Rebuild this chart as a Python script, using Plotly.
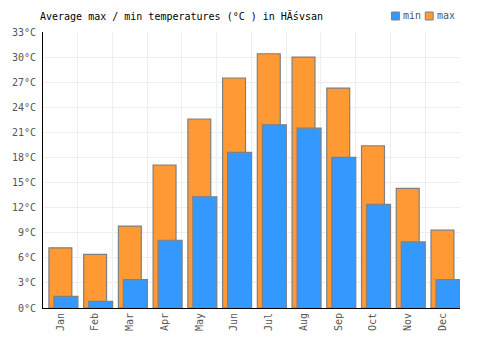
import plotly.graph_objects as go

months = ["Jan", "Feb", "Mar", "Apr", "May", "Jun", "Jul", "Aug", "Sep", "Oct", "Nov", "Dec"]
t_max = [7.2, 6.4, 9.8, 17.1, 22.6, 27.5, 30.4, 30.0, 26.3, 19.4, 14.3, 9.3]
t_min = [1.4, 0.8, 3.4, 8.1, 13.3, 18.6, 21.9, 21.5, 18.0, 12.4, 7.9, 3.4]
y_ticks = list(range(0, 34, 3))
y_labels = [f"{v}°C" for v in y_ticks]

FONT = "DejaVu Sans Mono"
C_MIN, C_MAX, EDGE = "#3399FF", "#FF9933", "#808080"

fig = go.Figure()
fig.add_trace(go.Bar(
    x=months, y=t_max, name="max", showlegend=False,
    marker=dict(color=C_MAX, line=dict(color=EDGE, width=1.2)),
    offset=-0.33, width=0.66,
))
fig.add_trace(go.Bar(
    x=months, y=t_min, name="min", showlegend=False,
    marker=dict(color=C_MIN, line=dict(color=EDGE, width=1.2)),
    offset=-0.185, width=0.69,
))

legend_items = [("min", C_MIN, 391), ("max", C_MAX, 425)]
for label, col, px in legend_items:
    fig.add_shape(type="rect", xref="paper", yref="paper",
                  x0=(px - 40) / 420, x1=(px + 8 - 40) / 420,
                  y0=1 + (32 - 20) / 276, y1=1 + (32 - 12) / 276,
                  fillcolor=col, line=dict(color=EDGE, width=1))
    fig.add_annotation(text=label, xref="paper", yref="paper",
                       x=(px + 10 - 40) / 420, y=1 + (32 - 16) / 276,
                       xanchor="left", yanchor="middle", showarrow=False,
                       font=dict(family=FONT, size=10, color="#555555"))

fig.update_layout(
    width=500, height=350,
    margin=dict(l=40, r=40, t=32, b=42),
    barmode="overlay",
    paper_bgcolor="white", plot_bgcolor="white",
    font=dict(family=FONT, size=10, color="#555555"),
    title=dict(text="Average max / min temperatures (°C ) in HĂśvsan",
               x=40/500, xanchor="left", y=1 - 16/350, yanchor="middle",
               font=dict(family=FONT, size=10, color="#000000")),
    showlegend=False,
    hovermode=False,
)
fig.update_xaxes(
    type="category", tickson="boundaries", showgrid=True, gridcolor="#EEEEEE", gridwidth=1,
    tickangle=-90, ticks="", showline=True, linecolor="#000000", linewidth=1,
    tickfont=dict(family=FONT, size=10, color="#555555"),
)
fig.update_yaxes(
    range=[0, 33], tickvals=y_ticks, ticktext=y_labels,
    showgrid=True, gridcolor="#EEEEEE", gridwidth=1, zeroline=False,
    showline=True, linecolor="#000000", linewidth=1, ticks="",
    ticklabelstandoff=4,
    tickfont=dict(family=FONT, size=10, color="#555555"),
)
fig.write_html("out.html")
